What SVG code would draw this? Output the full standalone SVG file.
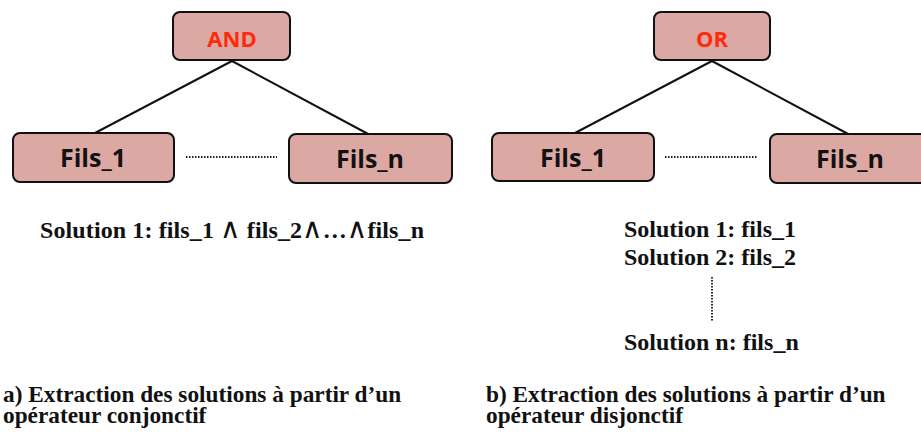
<svg xmlns="http://www.w3.org/2000/svg" width="921" height="432" viewBox="0 0 921 432">
<style>
.box{fill:#dca8a4;stroke:#111;stroke-width:2}
.lbl{font-family:"Open Sans","Noto Sans",sans-serif;font-weight:bold;font-size:25px;fill:#111;text-anchor:middle}
.op{font-family:"Open Sans","Noto Sans",sans-serif;font-weight:bold;font-size:22px;fill:#ff2a0a;text-anchor:middle}
.edge{stroke:#111;stroke-width:2;fill:none}
.dots{stroke:#222;stroke-width:2;stroke-dasharray:1.5 1.5;fill:none}
.sol{font-family:"Liberation Serif","Times New Roman",serif;font-weight:bold;font-size:24px;fill:#111}
.sym{font-family:"DejaVu Sans",sans-serif;font-weight:normal;font-size:28px}
.cap{font-family:"Liberation Serif","Times New Roman",serif;font-weight:bold;font-size:23.3px;fill:#111}
</style>
<rect width="921" height="432" fill="#fff"/>
<g id="connectors">
<line class="edge" x1="232" y1="61" x2="95" y2="133"/>
<line class="edge" x1="232" y1="61" x2="370" y2="135"/>
<line class="dots" x1="186" y1="157" x2="277" y2="157"/>
<line class="edge" x1="712" y1="61" x2="575" y2="133"/>
<line class="edge" x1="712" y1="61" x2="850" y2="135"/>
<line class="dots" x1="665" y1="157" x2="757" y2="157"/>
<line class="dots" x1="712" y1="277" x2="712" y2="322"/>
</g>
<g id="and"><rect class="box" x="173" y="12" width="117" height="48" rx="7"/><text class="op" x="232" y="47">AND</text></g>
<g id="a_fils1"><rect class="box" x="13" y="133" width="161" height="49" rx="7"/><text class="lbl" x="93" y="167">Fils_1</text></g>
<g id="a_filsn"><rect class="box" x="289" y="134" width="163" height="49" rx="7"/><text class="lbl" x="370" y="168">Fils_n</text></g>
<g id="or"><rect class="box" x="654" y="12" width="116" height="48" rx="7"/><text class="op" x="712" y="47">OR</text></g>
<g id="b_fils1"><rect class="box" x="492" y="133" width="162" height="48" rx="7"/><text class="lbl" x="573" y="167">Fils_1</text></g>
<g id="b_filsn"><rect class="box" x="770" y="134" width="162" height="49" rx="7"/><text class="lbl" x="850" y="168">Fils_n</text></g>
<text class="sol" x="40" y="238" textLength="384" lengthAdjust="spacing">Solution 1: fils_1 <tspan class="sym">∧</tspan> fils_2<tspan class="sym">∧</tspan>…<tspan class="sym">∧</tspan>fils_n</text>
<text class="sol" x="624" y="237">Solution 1: fils_1</text>
<text class="sol" x="624" y="265">Solution 2: fils_2</text>
<text class="sol" x="624" y="350">Solution n: fils_n</text>
<text class="cap" x="3" y="402">a) Extraction des solutions à partir d’un</text>
<text class="cap" x="3" y="423">opérateur conjonctif</text>
<text class="cap" x="486" y="402">b) Extraction des solutions à partir d’un</text>
<text class="cap" x="486" y="423">opérateur disjonctif</text>
</svg>
